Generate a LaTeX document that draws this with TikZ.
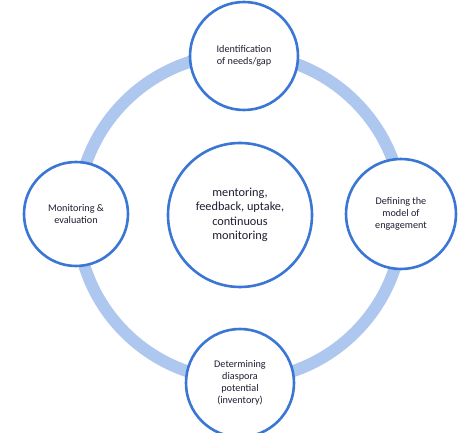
\documentclass[tikz,border=0pt]{standalone}
\usepackage{fontspec}
\setmainfont{Carlito}
\definecolor{ringblue}{RGB}{173,199,238}
\definecolor{edgeblue}{RGB}{58,118,212}
\definecolor{txt}{RGB}{30,30,50}
\begin{document}
\begin{tikzpicture}[x=1pt,y=1pt,
  stagebox/.style={circle,draw=edgeblue,line width=2.6pt,fill=white,minimum size=#1,inner sep=0pt,align=center,text=txt,font=\fontsize{10.2}{12.2}\selectfont},
  hubbox/.style={circle,draw=edgeblue,line width=2.6pt,fill=white,minimum size=144pt,inner sep=0pt,align=center,text=txt,font=\fontsize{12.3}{14.5}\selectfont}]
\useasboundingbox (0,0) rectangle (474,433);
\coordinate (rc) at (240,216);
\draw[ringblue,line width=12pt] (rc) circle[radius=163];
\node[hubbox] (hub) at (240,218) {mentoring,\\feedback, uptake,\\continuous\\monitoring};
\node[stagebox=108pt] (top) at (244,377) {Identification\\of needs/gap};
\node[stagebox=110pt] (right) at (401,219) {Defining the\\model of\\engagement};
\node[stagebox=108pt] (bottom) at (240,50) {Determining\\diaspora\\potential\\(inventory)};
\node[stagebox=104pt] (left) at (76,219) {Monitoring \&\\evaluation};
\end{tikzpicture}
\end{document}
